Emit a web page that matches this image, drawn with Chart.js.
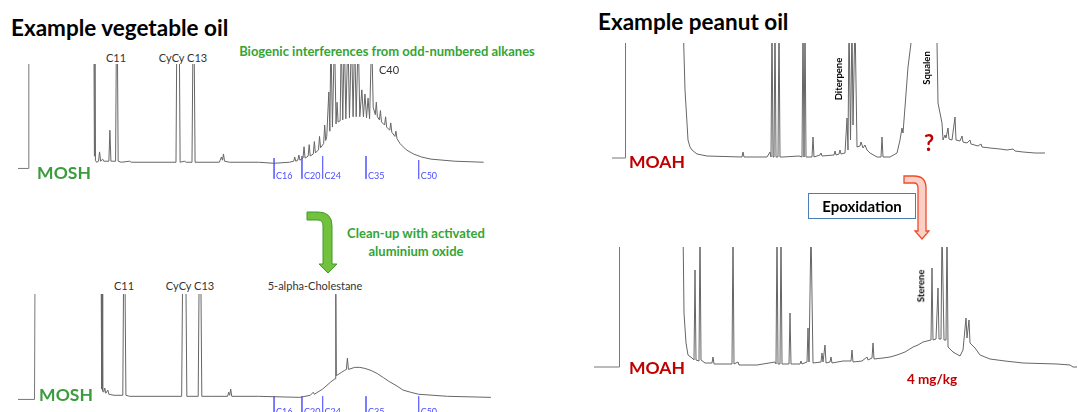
<!DOCTYPE html>
<html>
<head>
<meta charset="utf-8">
<script src="https://cdn.jsdelivr.net/npm/chart.js@4.4.0/dist/chart.umd.min.js"></script>
<style>
body{margin:0;width:1078px;height:412px;overflow:hidden;position:relative;background:#fff;font-family:Lato,"Open Sans",sans-serif}
canvas{position:absolute}
.t{position:absolute;white-space:nowrap;line-height:1;transform:translate(-50%,-50%)}
.l{position:absolute;white-space:nowrap;line-height:1;transform:translateY(-50%)}
.title{font-size:22.5px;font-weight:bold;color:#000}
.pk{font-size:11px;color:#333}
.grn{font-size:13px;font-weight:bold;color:#33a533}
.mosh{font-size:17.5px;font-weight:bold;color:#3c9b3c}
.moah{font-size:17.5px;font-weight:bold;color:#c00000}
.rot{font-size:9.5px;font-weight:bold;color:#000;transform:translate(-50%,-50%) rotate(-90deg)}
.mk{position:absolute;font-size:9px;color:#4b4bff;line-height:1;transform:translateY(-50%)}
.box{position:absolute;left:808px;top:193px;width:106px;height:24px;border:1.5px solid #4a7ebb;font-size:15px;font-weight:bold;text-align:center;line-height:24px}
svg{position:absolute;left:0;top:0}
</style>
</head>
<body>
<script>
// retention (scan) vs detector signal
const alkaneNames = ['C16', 'C20', 'C24', 'C35', 'C50'];
const alkaneRt = [248, 275, 295, 337, 388];
const alkaneTop1 = [10, 12, 12, 12, 8];

const mosh1Solvent = [[0,0],[10,0],[10.5,130]];
const mosh1Trace = [[73.5,130],[74,12],[74.5,130],[75,8],[76,6],[78,7],[79,16],[80,7],[82,9],[83,7],[88,7],[89,37],[90,7],[94.5,7],[95.3,130],[96.2,130],[97,7],[100,6],[108,7],[110,6],[153,6],[153.8,130],[156.2,130],[157,6],[161,7],[163,6],[168.5,6],[169.5,130],[170.5,130],[171.5,6],[195,6],[197,11],[198,8],[199,14],[200,7],[205,6],[233,6],[248,5],[263,6],[267,7],[268,11],[269,7],[271,8],[272,13],[273,8],[276,10],[277,21],[278,10],[281,12],[282,23],[283,12],[286,14],[287,26],[288,15],[291,18],[292,31],[293,20],[296,24],[297,42],[298,27],[299,31],[301,74],[302,36],[303,130],[304.5,40],[306.5,130],[308,43],[309,64],[310,45],[312,46],[313,130],[314.5,47],[316,130],[317.5,48],[319.5,130],[321,49],[323,130],[324.5,50],[326,130],[327.5,50],[329.5,130],[331,50],[333,76],[334.5,50],[336,72],[337.5,49],[339,68],[340.5,48],[342.5,130],[344,59],[346,52],[347,64],[348,50],[350,47],[351,56],[352,45],[355,42],[356,50],[357,40],[360,37],[361,44],[362,35],[365,31],[366,36],[367,29],[370,24],[376,18],[383,14],[391,11],[400,9],[423,7],[451,6]];

const mosh2Solvent = [[0,0],[16,0],[16.5,130]];
const mosh2Trace = [[80.5,130],[81,10],[81.5,130],[82,8],[83,7],[84,11],[85,6],[87,9],[88,5],[93,4],[101.5,4],[102.3,130],[103.5,130],[104.5,4],[108,3],[158.5,3],[159.5,130],[162.5,130],[163.5,3],[174.5,3],[175.5,130],[177,130],[178,3],[188,3],[203,3],[204,7],[205,4],[206,10],[207,3],[233,3],[273,2],[283,4],[286,7],[287,5],[295,10],[303,17],[307,20],[307.7,130],[308.3,23],[313,26],[316,28],[318,29],[319,40],[320,29],[326,31],[331,31],[336,30],[342,28],[348,25],[354,21],[360,17],[367,13],[373,9],[380,7],[388,5],[416,3],[458,2]];

const moah1Solvent = [[2,0],[15,0],[15.5,130]];
const moah1Trace = [[73,140],[75,68],[77,35],[78,18],[80,11],[82,8],[87,4],[97,2],[132,1],[133,6],[134,1],[157,1],[160,6],[161,1],[162,140],[163,1],[164,1],[165,140],[166,1],[168,1],[169,140],[170,1],[173,1],[189,2],[192,1],[193,140],[194,1],[195,140],[196,1],[202,1],[203,21],[204,1],[210,3],[211,5],[212,2],[224,3],[225,7],[226,3],[229,4],[230,8],[231,4],[235,5],[237,40],[238,8],[239,140],[240.5,18],[242,140],[243,33],[245,140],[247,11],[250,12],[251,16],[253,10],[255,13],[257,8],[260,5],[267,1],[271,1],[272,21],[273,1],[280,1],[287,5],[290,18],[292,30],[293,25],[295,51],[298,91],[301,115],[303,200],[325,200],[327,115],[328,55],[330,45],[332,35],[333,18],[335,23],[336,20],[338,30],[339,19],[342,18],[345,41],[346,18],[350,17],[352,22],[353,16],[357,15],[360,18],[361,14],[368,12],[371,14],[372,11],[380,10],[390,9],[397,8],[403,9],[405,7],[413,6],[425,5],[435,5]];

const moah2Solvent = [[2,0],[27,0],[27.5,130]];
const moah2Trace = [[91,140],[92,54],[94,24],[96,12],[100,9],[102,7],[103,97],[104,7],[107,6],[108,140],[109,7],[113,4],[120,4],[121,10],[122,3],[140,3],[141,140],[142,3],[146,5],[147,2],[165,2],[183,5],[184,3],[185,140],[186,3],[188,3],[189,140],[190,3],[197,3],[198,54],[199,3],[208,3],[209,6],[210,3],[215,5],[216,39],[217,5],[219,140],[221,4],[229,5],[230,14],[231,5],[233,22],[234,4],[238,5],[239,10],[240,4],[251,6],[259,6],[260,17],[261,5],[270,6],[275,10],[276,7],[280,9],[281,24],[282,8],[291,9],[298,10],[305,12],[313,15],[321,20],[326,22],[331,25],[335,26],[339,27],[340,99],[341,27],[344,28],[346,79],[347,28],[349,28],[350,140],[352,27],[354,27],[355,140],[356,20],[361,15],[368,11],[371,17],[374,49],[375,29],[377,47],[378,24],[380,22],[383,19],[388,12],[398,8],[413,6],[431,4],[465,3],[478,2],[481,0],[485,0]];

function xy(arr){ return arr.map(p => ({x:p[0], y:p[1]})); }

function gcPanel(left, top, w, h, xMax, yMin, yMax, solvent, trace, marks, markTop, markBot, markLabelY){
    let cv = document.createElement('canvas');
    cv.width = w; cv.height = h;
    cv.style.left = left+'px'; cv.style.top = top+'px';
    document.body.appendChild(cv);

    let sets = [
        {data: xy(solvent), borderColor:'#777'},
        {data: xy(trace), borderColor:'#666'}
    ];
    if(marks){
        let m = [];
        for(let i=0; i<marks.length; i++){
            let t = Array.isArray(markTop) ? markTop[i] : markTop;
            m.push({x:marks[i], y:t}, {x:marks[i], y:markBot}, {x:marks[i], y:null});
        }
        sets.push({data:m, borderColor:'#6a6aff'});
    }
    sets.forEach(s => {
        s.showLine = true; s.pointRadius = 0; s.borderWidth = 1;
        s.clip = 0; s.spanGaps = false; s.borderJoinStyle = 'bevel';
    });

    let chart = new Chart(cv, {
        type:'scatter',
        data:{datasets:sets},
        options:{
            responsive:false,
            animation:false,
            devicePixelRatio:1,
            events:[],
            layout:{padding:0},
            plugins:{legend:{display:false}, tooltip:{enabled:false}},
            scales:{
                x:{type:'linear', display:false, min:0, max:xMax},
                y:{type:'linear', display:false, min:yMin, max:yMax}
            }
        }
    });

    if(marks){
        for(let i=0; i<marks.length; i++){
            let d = document.createElement('div');
            d.className = 'mk';
            d.textContent = alkaneNames[i];
            d.style.left = (left + chart.scales.x.getPixelForValue(marks[i]) + 2) + 'px';
            d.style.top = markLabelY + 'px';
            document.body.appendChild(d);
        }
    }
    return chart;
}

gcPanel(18, 64, 475, 121, 460, -16, 101, mosh1Solvent, mosh1Trace, alkaneRt, alkaneTop1, -10, 175);
gcPanel(18, 294, 475, 123, 460, -17, 102, mosh2Solvent, mosh2Trace, alkaneRt, 3, -20, 411);
gcPanel(610, 43, 450, 125, 450, -10, 115, moah1Solvent, moah1Trace);
gcPanel(592, 247, 486, 135, 486, -15, 120, moah2Solvent, moah2Trace);
</script>

<div class="l title" style="left:11px;top:28px">Example vegetable oil</div>
<div class="l title" style="left:598px;top:22px">Example peanut oil</div>

<div class="t grn" style="left:387px;top:51px">Biogenic interferences from odd-numbered alkanes</div>
<div class="t pk" style="left:116px;top:57px">C11</div>
<div class="t pk" style="left:183px;top:57px">CyCy C13</div>
<div class="t pk" style="left:389px;top:69px">C40</div>
<div class="t mosh" style="left:64px;top:173px">MOSH</div>

<div class="t grn" style="left:416px;top:233px">Clean-up with activated</div>
<div class="t grn" style="left:416px;top:251px">aluminium oxide</div>

<div class="t pk" style="left:124px;top:285px">C11</div>
<div class="t pk" style="left:190px;top:285px">CyCy C13</div>
<div class="t pk" style="left:315px;top:285px">5-alpha-Cholestane</div>
<div class="t mosh" style="left:66px;top:395px">MOSH</div>

<div class="t rot" style="left:839px;top:79px">Diterpene</div>
<div class="t rot" style="left:927px;top:68px">Squalen</div>
<div class="t" style="left:929px;top:143px;font-size:22px;font-weight:bold;color:#c00000">?</div>
<div class="t moah" style="left:657px;top:162px">MOAH</div>

<div class="box">Epoxidation</div>

<div class="t rot" style="left:921px;top:286px">Sterene</div>
<div class="t moah" style="left:657px;top:368px">MOAH</div>
<div class="t" style="left:932px;top:380px;font-size:13.5px;font-weight:bold;color:#c00000">4 mg/kg</div>

<svg width="1078" height="412">
  <path d="M307,212 L318,212 Q332,212 332,226 L332,264 L337,264 L328,273 L319,264 L323,264 L323,226 Q323,220 318,220 L307,220 Z" fill="#72c23e" stroke="#3f9a28" stroke-width="1"/>
  <path d="M904,176 L914,176 Q926,176 926,188 L926,231 L929,231 L922,239 L915,231 L918,231 L918,188 Q918,183 914,183 L904,183 Z" fill="#fcd0c6" stroke="#f04a2a" stroke-width="1.3"/>
</svg>
</body>
</html>
